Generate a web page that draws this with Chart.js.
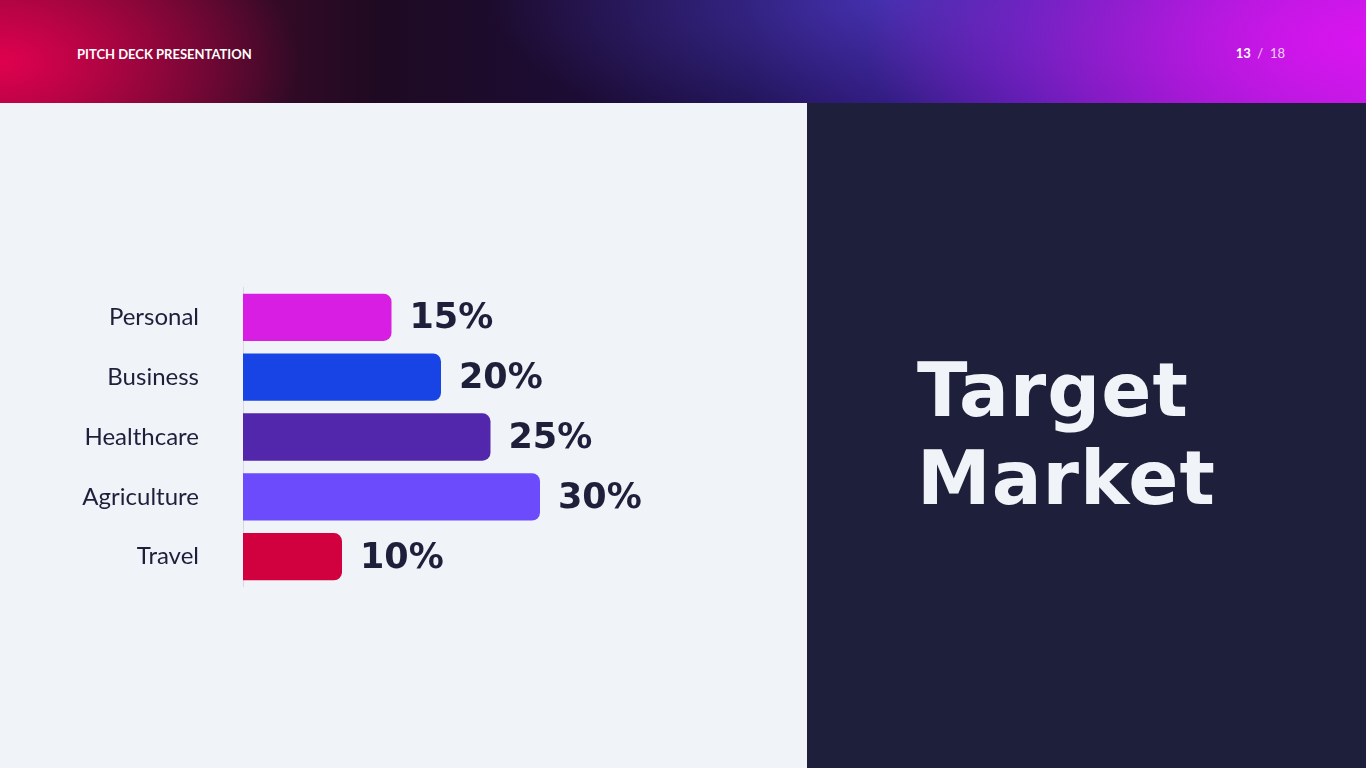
<!DOCTYPE html>
<html>
<head>
<meta charset="utf-8">
<script src="https://cdn.jsdelivr.net/npm/chart.js"></script>
<style>
  body { margin: 0; width: 1366px; height: 768px; overflow: hidden; font-family: Lato, sans-serif; background: #f0f4f8; }
  #header {
    position: absolute; left: 0; top: 0; width: 1366px; height: 103px;
    background:
      radial-gradient(ellipse 300px 160px at 0% 60%, rgba(230,0,80,0.95), rgba(230,0,80,0) 100%),
      radial-gradient(ellipse 500px 200px at 100% 40%, rgba(220,20,240,0.95), rgba(220,20,240,0) 100%),
      radial-gradient(ellipse 400px 150px at 65% 0%, rgba(80,60,200,0.7), rgba(80,60,200,0) 100%),
      linear-gradient(90deg, #6a0a30 0%, #1e0a22 28%, #1a0e45 55%, #3a1a9a 75%, #a020d8 100%);
  }
  #header .t { position: absolute; left: 77px; top: 46px; color: #fff; font-size: 13px; font-weight: 700; }
  #header .p { position: absolute; right: 81px; top: 45px; color: #fff; font-size: 13px; }
  #header .p b { font-weight: 700; }
  #header .p span { opacity: 0.8; }
  #right { position: absolute; left: 807px; top: 103px; width: 559px; height: 665px; background: #1e1f3a; }
  #title { position: absolute; left: 110px; top: 243px; color: #f0f4f8; font-family: "DejaVu Sans", sans-serif; font-weight: 900; font-size: 74px; line-height: 88px; letter-spacing: 1px; }
  #wrap { position: absolute; left: 0; top: 237px; width: 807px; height: 400px; }
</style>
</head>
<body>
<div id="header"><div class="t">PITCH DECK PRESENTATION</div><div class="p"><b>13</b> <span>&nbsp;/&nbsp; 18</span></div></div>
<div id="right"><div id="title">Target<br>Market</div></div>
<div id="wrap"><canvas id="c"></canvas></div>
<script>
const categories = ['Personal', 'Business', 'Healthcare', 'Agriculture', 'Travel'];
const shares = [15, 20, 25, 30, 10];
const barColors = ['#d91ee3', '#1844e6', '#5227ab', '#6b4bfc', '#d1003f'];

const valueLabels = {
    id: 'valueLabels',
    afterDatasetsDraw(chart) {
        const ctx = chart.ctx;
        const meta = chart.getDatasetMeta(0);
        ctx.save();
        ctx.fillStyle = '#1e1f3a';
        ctx.font = '900 35px "DejaVu Sans"';
        ctx.textBaseline = 'middle';
        meta.data.forEach((bar, i) => {
            ctx.fillText(shares[i] + '%', bar.x + 18, bar.y + 2);
        });
        ctx.restore();
    }
};

new Chart(document.getElementById('c'), {
    type: 'bar',
    data: {
        labels: categories,
        datasets: [{
            data: shares,
            backgroundColor: barColors,
            borderRadius: 8,
            borderSkipped: 'start',
            categoryPercentage: 0.79,
            barPercentage: 1
        }]
    },
    options: {
        indexAxis: 'y',
        responsive: true,
        maintainAspectRatio: false,
        animation: false,
        layout: { padding: { right: 168 } },
        plugins: { legend: { display: false }, tooltip: { enabled: false } },
        scales: {
            x: { display: false, min: 0, max: 40 },
            y: {
                afterFit(scale) { scale.width = 243; },
                grid: { display: false },
                border: { display: true, color: '#d5d9e0', width: 1 },
                ticks: { color: '#1e1f3a', padding: 36, font: { family: 'Lato', size: 24 } }
            }
        }
    },
    plugins: [valueLabels]
});
</script>
</body>
</html>
